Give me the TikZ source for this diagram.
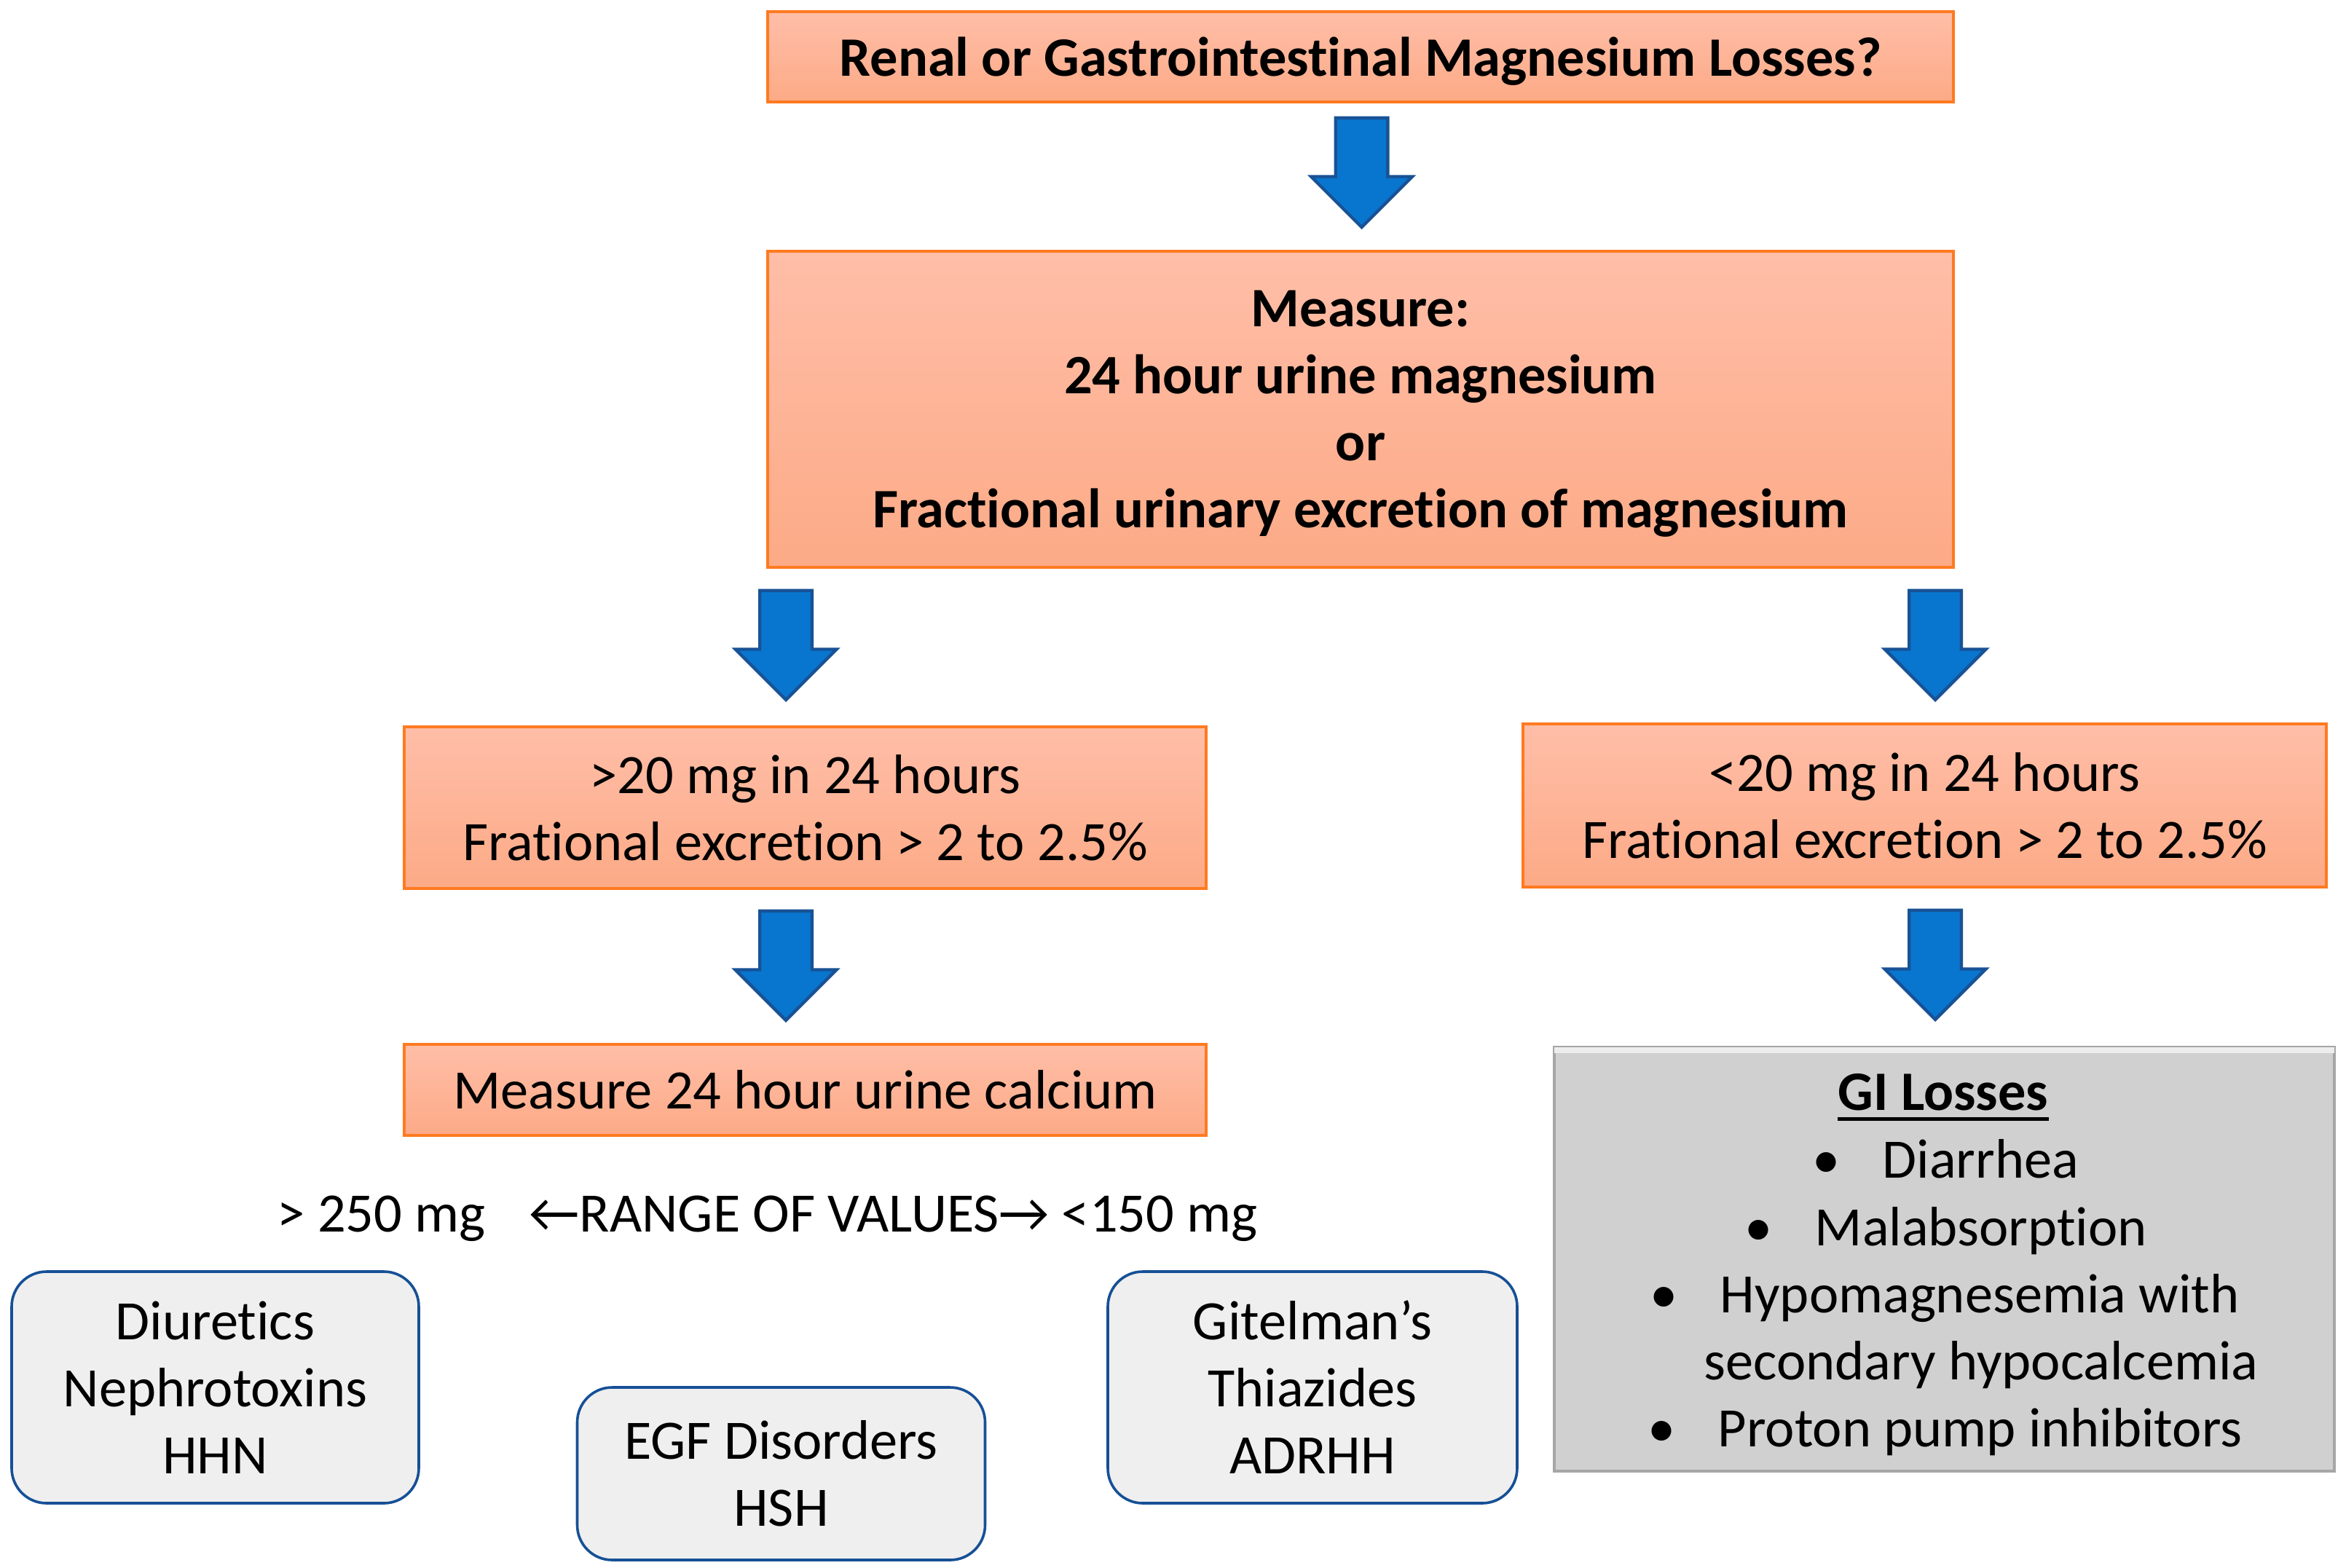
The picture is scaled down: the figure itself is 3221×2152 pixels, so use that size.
\documentclass[tikz,border=0pt]{standalone}
\usepackage{fontspec}
\setmainfont{Carlito}[Ligatures=NoCommon]
\usetikzlibrary{shapes.arrows}
\definecolor{oline}{RGB}{255,122,32}
\definecolor{otop}{RGB}{255,190,168}
\definecolor{obot}{RGB}{252,170,134}
\definecolor{bfill}{RGB}{8,118,206}
\definecolor{bline}{RGB}{24,82,150}
\definecolor{gfill}{RGB}{208,208,208}
\definecolor{gline}{RGB}{166,166,166}
\definecolor{rfill}{RGB}{239,239,239}
\definecolor{rline}{RGB}{22,80,150}
\newcommand{\myfs}{\fontsize{19.1pt}{23pt}\selectfont}
\tikzset{
  txt/.style={font=\myfs, align=center},
  obox/.style={txt, draw=oline, line width=0.8pt, top color=otop, bottom color=obot, inner sep=0pt},
  rbox/.style={txt, draw=rline, line width=0.9pt, fill=rfill, rounded corners=12pt, inner sep=0pt},
  gbox/.style={draw=gline, line width=0.8pt, fill=gfill, inner sep=0pt},
  barrow/.style={single arrow, draw=bline, fill=bfill, line width=1.1pt, rotate=-90, anchor=tip,
    minimum height=37.5pt, minimum width=34pt, single arrow head extend=8.4pt,
    inner xsep=0pt, inner ysep=8.4pt, text height=0pt, text depth=0pt},
  plain/.style={font=\myfs, inner sep=0pt}
}
\begin{document}
\begin{tikzpicture}[x=0.25pt,y=-0.25pt]
\useasboundingbox (0,0) rectangle (3221,2152);
% boxes
\node[obox, minimum width=407pt, minimum height=31pt, font=\myfs\bfseries, text depth=0pt] (top) at (1868,78) {Renal or Gastrointestinal Magnesium Losses?};
\node[obox, minimum width=407pt, minimum height=108.5pt, font=\myfs\bfseries, text depth=0pt] (measure) at (1868,562)
  {Measure:\\24 hour urine magnesium\\or\\Fractional urinary excretion of magnesium};
\node[obox, minimum width=275.25pt, minimum height=55.5pt] (high) at (1105.5,1109)
  {>20 mg in 24 hours\\Frational excretion > 2 to 2.5\%};
\node[obox, minimum width=275.75pt, minimum height=56pt] (low) at (2642.5,1106)
  {<20 mg in 24 hours\\Frational excretion > 2 to 2.5\%};
\node[obox, minimum width=275.25pt, minimum height=31.25pt] (calc) at (1105.5,1496.5)
  {Measure 24 hour urine calcium};
% arrows
\node[barrow] (a1) at (1869.5,315) {};
\node[barrow] (a2l) at (1079,964) {};
\node[barrow] (a2r) at (2657,964) {};
\node[barrow] (a3l) at (1079,1404) {};
\node[barrow] (a3r) at (2657,1403) {};
% range of values
\node[plain, anchor=base west] (range) at (380,1691)
  {> 250 mg\hspace{15pt}←RANGE OF VALUES→ <150 mg};
% rounded boxes
\node[rbox, minimum width=139.75pt, minimum height=79.5pt] (diur) at (295.5,1905)
  {Diuretics\\Nephrotoxins\\HHN};
\node[rbox, minimum width=140pt, minimum height=59.25pt] (egf) at (1072.5,2023.5)
  {EGF Disorders\\HSH};
\node[rbox, minimum width=140.5pt, minimum height=79.5pt] (gitel) at (1802,1905)
  {Gitelman’s\\Thiazides\\ADRHH};
% GI box
\node[gbox, minimum width=267.75pt, minimum height=145.5pt] (gi) at (2669.5,1729) {};
\fill[white!86!gray] ([xshift=0.4pt,yshift=-0.4pt]gi.north west) rectangle ([xshift=-0.4pt,yshift=-2.4pt]gi.north east);
\node[plain, anchor=base, font=\myfs\bfseries] (gititle) at (2668,1524) {GI Losses};
\draw[line width=1.2pt] ([yshift=-3.2pt]gititle.base west) -- ([yshift=-3.2pt]gititle.base east);
\node[plain, anchor=base west] (b1) at (2488,1617) {\makebox[24pt][l]{•}Diarrhea};
\node[plain, anchor=base west] (b2) at (2395,1710) {\makebox[24pt][l]{•}Malabsorption};
\node[plain, anchor=base west] (b3) at (2265,1802) {\makebox[24pt][l]{•}Hypomagnesemia with};
\node[plain, anchor=base west] (b3b) at (2339,1894) {secondary hypocalcemia};
\node[plain, anchor=base west] (b4) at (2262,1986) {\makebox[24pt][l]{•}Proton pump inhibitors};
\end{tikzpicture}
\end{document}
